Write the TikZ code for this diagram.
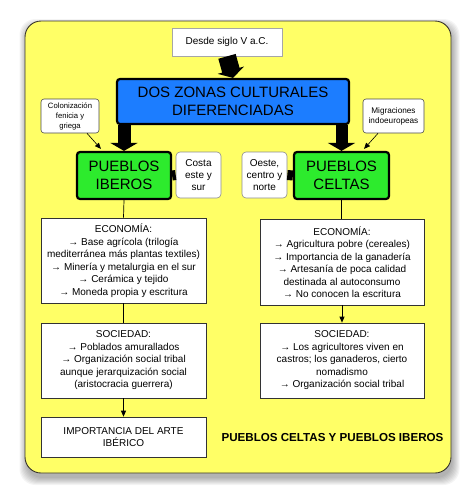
\documentclass[tikz,border=0pt]{standalone}
\usepackage{fontspec}
\setmainfont{Liberation Sans}
\usetikzlibrary{arrows.meta,calc}
\definecolor{bgyellow}{RGB}{255,255,102}
\definecolor{dosblue}{RGB}{28,125,255}
\definecolor{pgreen}{RGB}{45,235,45}
\begin{document}
\begin{tikzpicture}[x=1pt,y=-1pt,
  wbox/.style={draw=black!80, line width=0.7pt, fill=white, align=center, inner sep=0pt,
    font=\fontsize{10}{12.5}\selectfont},
  notebox/.style={draw=black!45, line width=0.6pt, fill=white, align=center, inner sep=0pt,
    rounded corners=4pt},
  bigbox/.style={draw=black, line width=2.2pt, rounded corners=3pt, align=center, inner sep=0pt,
    font=\fontsize{15}{17.5}\selectfont},
  bigarrow/.style={draw=black, -{Triangle[width=27pt,length=8pt]}},
  thinline/.style={draw=black, line width=0.7pt},
  tiptri/.style={-{Triangle[width=5pt,length=6pt]}},
  bar/.style={draw=black, line width=10pt}
]
\useasboundingbox (0,0) rectangle (474,501);
% shadow
\foreach \s in {0,1,...,7}{
  \fill[black,opacity=0.045,rounded corners=16pt] (25-\s+1.5,21-\s+5) rectangle (451+\s+1.5,473+\s+5);
}
\fill[bgyellow, draw=black!80!olive, line width=0.9pt, rounded corners=16pt] (25,21) rectangle (451,473);

% nodes
\node[wbox, draw=black!35, minimum width=110pt, minimum height=28pt] (desde) at (227,42) {Desde siglo V a.C.};
\node[bigbox, fill=dosblue, minimum width=232pt, minimum height=45pt, font=\fontsize{15}{18.5}\selectfont] (dos) at (233,101.5) {DOS ZONAS CULTURALES\\DIFERENCIADAS};
\node[notebox, draw=black!70, minimum width=58pt, minimum height=34pt, rounded corners=3pt, font=\fontsize{7.7}{10}\selectfont] (colon) at (70,116) {Colonización\\fenicia y\\griega};
\node[notebox, draw=black!70, minimum width=61pt, minimum height=34pt, rounded corners=3pt, font=\fontsize{8.2}{10}\selectfont] (migr) at (393.5,116) {Migraciones\\indoeuropeas};
\node[bigbox, fill=pgreen, minimum width=94pt, minimum height=47pt] (iberos) at (124,175.5) {PUEBLOS\\IBEROS};
\node[bigbox, fill=pgreen, minimum width=95pt, minimum height=47pt] (celtas) at (341.5,175.5) {PUEBLOS\\CELTAS};
\node[notebox, minimum width=45pt, minimum height=46pt, font=\fontsize{10}{12}\selectfont] (costa) at (198.5,175) {Costa\\este y\\sur};
\node[notebox, minimum width=45pt, minimum height=46pt, font=\fontsize{10}{12}\selectfont] (oeste) at (264.5,175) {Oeste,\\centro y\\norte};

\node[wbox, minimum width=165pt, minimum height=85pt] (econL) at (123.5,260.5) {ECONOMÍA:\\→ Base agrícola (trilogía\\mediterránea más plantas textiles)\\→ Minería y metalurgia en el sur\\→ Cerámica y tejido\\→ Moneda propia y escritura};
\node[wbox, minimum width=164pt, minimum height=86pt] (econR) at (342,262) {ECONOMÍA:\\→ Agricultura pobre (cereales)\\→ Importancia de la ganadería\\→ Artesanía de poca calidad\\destinada al autoconsumo\\→ No conocen la escritura};
\node[wbox, minimum width=165pt, minimum height=75pt] (socL) at (123.5,360.5) {SOCIEDAD:\\→ Poblados amurallados\\→ Organización social tribal\\aunque jerarquización social\\(aristocracia guerrera)};
\node[wbox, minimum width=164pt, minimum height=75pt] (socR) at (342,360.5) {SOCIEDAD:\\→ Los agricultores viven en\\castros; los ganaderos, cierto\\nomadismo\\→ Organización social tribal};
\node[wbox, minimum width=165pt, minimum height=40pt] (arte) at (123.5,437) {IMPORTANCIA DEL ARTE\\IBÉRICO};
\node[font=\bfseries\fontsize{11.6}{14}\selectfont, inner sep=0pt] (title) at (332.5,438) {PUEBLOS CELTAS Y PUEBLOS IBEROS};

% big arrows
\draw[bigarrow, line width=18pt] (desde.south) -- (dos.north);
\draw[bigarrow, line width=13pt] (dos.south -| iberos.north) -- (iberos.north);
\draw[bigarrow, line width=12pt] (dos.south -| celtas.north) -- (celtas.north);

% bars
\draw[bar] (iberos.east) -- (costa.west);
\draw[bar] (oeste.east) -- (celtas.west);

% note arrows
\draw[thinline, line width=0.6pt, tiptri] ([xshift=17pt]colon.south) -- ([xshift=25pt,yshift=2pt]iberos.north west);
\draw[thinline, line width=0.6pt, tiptri] ([xshift=-15.5pt]migr.south) -- ([xshift=-26pt,yshift=2pt]celtas.north east);

% thin connectors
\draw[thinline] (iberos.south) -- (econL.north);
\draw[thinline] (econL.south) -- (socL.north);
\draw[thinline, tiptri] (socL.south) -- (arte.north);
\draw[thinline] (celtas.south) -- (celtas.south |- econR.north);
\draw[thinline, tiptri] (econR.south) -- (socR.north);
\end{tikzpicture}
\end{document}
